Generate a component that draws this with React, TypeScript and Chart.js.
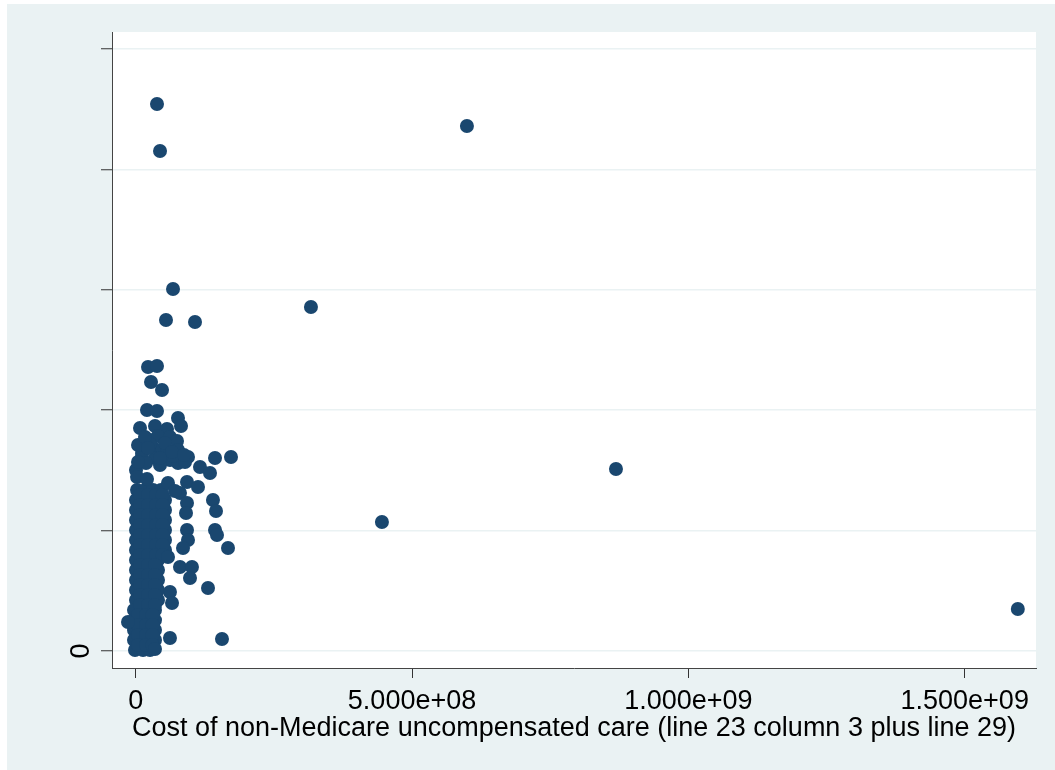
import React, { useEffect, useRef } from "react";
import { Chart, registerables } from "chart.js";

Chart.register(...registerables);

// x: cost in millions of dollars, y: value in axis units (ticks 0..5, only "0" labelled)
const outliers: [number, number][] = [
  [38.5, 4.543], [44.0, 4.153], [599.3, 4.36], [67.5, 3.007], [54.8, 2.749],
  [107.3, 2.733], [317.1, 2.857], [869.0, 1.512], [445.5, 1.071], [1596.1, 0.349],
];

const upperCluster: [number, number][] = [
  [22.3, 2.359], [38.5, 2.367], [27.7, 2.234], [47.6, 2.168], [20.4, 2.002],
  [38.5, 1.993], [7.8, 1.852], [34.9, 1.869], [56.6, 1.844], [76.5, 1.935],
  [82.0, 1.869], [25.9, 1.752], [40.3, 1.786], [62.0, 1.777], [74.7, 1.744],
  [76.5, 1.669], [11.4, 1.645], [31.3, 1.686], [47.6, 1.669], [56.6, 1.669],
  [94.6, 1.611], [143.5, 1.603], [172.4, 1.611], [11.4, 1.611], [34.9, 1.603],
  [62.0, 1.586], [76.5, 1.561], [116.3, 1.528], [134.4, 1.478], [2.4, 1.445],
  [20.4, 1.429], [58.4, 1.395], [92.8, 1.404], [112.7, 1.362], [80.1, 1.312],
  [71.1, 1.329], [139.8, 1.254], [145.3, 1.163], [92.8, 1.229], [91.0, 1.146],
  [92.8, 1.005], [94.6, 0.922], [85.6, 0.855], [143.5, 1.005], [147.1, 0.963],
  [167.0, 0.855], [58.4, 0.781], [80.1, 0.698], [101.8, 0.698], [98.2, 0.606],
  [130.8, 0.523], [62.0, 0.49], [65.7, 0.399], [62.0, 0.108], [156.1, 0.1],
  [34.9, 0.017], [-13.9, 0.241],
  [4.2, 1.711], [18.6, 1.561], [44.0, 1.545], [53.0, 1.727], [89.2, 1.57],
  [25.9, 1.72], [67.5, 1.62], [16.8, 1.777], [4.2, 1.57], [65.7, 1.653],
  [87.4, 1.628], [44.0, 1.603], [22.3, 1.686],
];

const denseCluster: [number, number][] = [
  [0.5, 1.503],
  [2.4, 1.337], [16.8, 1.337], [31.3, 1.337], [45.8, 1.337],
  [0.5, 1.254], [15.0, 1.254], [29.5, 1.254], [44.0, 1.254], [53.0, 1.254],
  [0.5, 1.171], [15.0, 1.171], [29.5, 1.171], [44.0, 1.171], [53.0, 1.171],
  [0.5, 1.088], [15.0, 1.088], [29.5, 1.088], [44.0, 1.088], [53.0, 1.088],
  [0.5, 1.005], [15.0, 1.005], [29.5, 1.005], [44.0, 1.005], [53.0, 1.005],
  [0.5, 0.922], [15.0, 0.922], [29.5, 0.922], [44.0, 0.922], [53.0, 0.922],
  [0.5, 0.839], [15.0, 0.839], [29.5, 0.839], [44.0, 0.839], [53.0, 0.839],
  [0.5, 0.756], [15.0, 0.756], [29.5, 0.756], [40.3, 0.756],
  [0.5, 0.673], [15.0, 0.673], [29.5, 0.673], [40.3, 0.673],
  [0.5, 0.59], [15.0, 0.59], [29.5, 0.59], [40.3, 0.59],
  [0.5, 0.507], [15.0, 0.507], [29.5, 0.507], [40.3, 0.507],
  [0.5, 0.424], [15.0, 0.424], [29.5, 0.424], [40.3, 0.424],
  [-3.1, 0.341], [11.4, 0.341], [25.9, 0.341], [34.9, 0.341],
  [-3.1, 0.257], [11.4, 0.257], [25.9, 0.257], [34.9, 0.257],
  [-3.1, 0.174], [11.4, 0.174], [25.9, 0.174], [34.9, 0.174],
  [-3.1, 0.091], [11.4, 0.091], [25.9, 0.091], [34.9, 0.091],
  [-1.3, 0.008], [13.2, 0.008], [25.9, 0.008],
];

const denseClusterInner: [number, number][] = [
  [7.8, 1.296], [22.3, 1.296], [36.7, 1.296], [48.5, 1.296],
  [7.8, 1.213], [22.3, 1.213], [36.7, 1.213], [48.5, 1.213],
  [7.8, 1.13], [22.3, 1.13], [36.7, 1.13], [48.5, 1.13],
  [7.8, 1.047], [22.3, 1.047], [36.7, 1.047], [48.5, 1.047],
  [7.8, 0.963], [22.3, 0.963], [36.7, 0.963], [48.5, 0.963],
  [7.8, 0.88], [22.3, 0.88], [36.7, 0.88], [48.5, 0.88],
  [7.8, 0.797], [22.3, 0.797], [36.7, 0.797], [48.5, 0.797],
  [7.8, 0.714], [22.3, 0.714], [34.9, 0.714],
  [7.8, 0.631], [22.3, 0.631], [34.9, 0.631],
  [7.8, 0.548], [22.3, 0.548], [34.9, 0.548],
  [7.8, 0.465], [22.3, 0.465], [34.9, 0.465],
  [7.8, 0.382], [22.3, 0.382], [34.9, 0.382],
  [4.2, 0.299], [18.6, 0.299], [30.4, 0.299],
  [4.2, 0.216], [18.6, 0.216], [30.4, 0.216],
  [4.2, 0.133], [18.6, 0.133], [30.4, 0.133],
  [4.2, 0.05], [18.6, 0.05], [30.4, 0.05],
];

const xTickValues = [0, 5e8, 1e9, 1.5e9];
const xTickLabels = ["0", "5.000e+08", "1.000e+09", "1.500e+09"];
const yTickValues = [0, 1, 2, 3, 4, 5];
const yTickLabels = ["0", "", "", "", "", ""];

const xTitle = "Cost of non-Medicare uncompensated care (line 23 column 3 plus line 29)";

const BG = "#EAF2F3";
const NAVY = "#1A476F";
const FONT = "'Liberation Sans', Arial, sans-serif";
const FS = 27;

export default function App() {
  const ref = useRef<HTMLCanvasElement>(null);

  useEffect(() => {
    if (!ref.current) return;
    const all = [...denseCluster, ...denseClusterInner, ...upperCluster, ...outliers].map(([x, y]) => ({
      x: x * 1e6,
      y,
    }));

    const bgPlugin = {
      id: "bg",
      beforeDraw(chart: any) {
        const { ctx, chartArea } = chart;
        ctx.save();
        ctx.fillStyle = BG;
        ctx.fillRect(0, 0, chart.width, chart.height);
        ctx.fillStyle = "#FFFFFF";
        ctx.fillRect(chartArea.left, chartArea.top, chartArea.right - chartArea.left, chartArea.bottom - chartArea.top);
        ctx.restore();
      },
      afterDraw(chart: any) {
        const { ctx } = chart;
        const ys = chart.scales.y;
        ctx.save();
        ctx.fillStyle = "#000";
        ctx.font = `${FS}px ${FONT}`;
        ctx.textAlign = "center";
        ctx.textBaseline = "middle";
        yTickValues.forEach((v, i) => {
          if (!yTickLabels[i]) return;
          ctx.save();
          ctx.translate(75, ys.getPixelForValue(v));
          ctx.rotate(-Math.PI / 2);
          ctx.fillText(yTickLabels[i], 0, 0);
          ctx.restore();
        });
        ctx.restore();
      },
    };

    const chart = new Chart(ref.current, {
      type: "scatter",
      data: {
        datasets: [
          {
            data: all,
            backgroundColor: NAVY,
            borderColor: NAVY,
            borderWidth: 0,
            pointRadius: 7,
            pointHoverRadius: 7,
          },
        ],
      },
      plugins: [bgPlugin],
      options: {
        responsive: false,
        animation: false,
        events: [],
        layout: { padding: { left: 0, top: 28, right: 19, bottom: 0 } },
        plugins: { legend: { display: false }, tooltip: { enabled: false } },
        scales: {
          x: {
            type: "linear",
            min: -42.9e6,
            max: 1629e6,
            afterBuildTicks: (s: any) => {
              s.ticks = xTickValues.map((v) => ({ value: v }));
            },
            afterFit: (s: any) => {
              s.height = 102;
            },
            ticks: {
              callback: (v: any) => {
                const i = xTickValues.indexOf(Number(v));
                return i >= 0 ? xTickLabels[i] : "";
              },
              font: { family: FONT, size: FS },
              color: "#000",
              padding: 7,
              maxRotation: 0,
              autoSkip: false,
            },
            grid: { drawOnChartArea: false, tickLength: 10, tickColor: "#333", tickWidth: 1 },
            border: { color: "#444", width: 1 },
            title: {
              display: true,
              text: xTitle,
              font: { family: FONT, size: FS },
              color: "#000",
              padding: { top: 0, bottom: 25 },
            },
          },
          y: {
            type: "linear",
            min: -0.141,
            max: 5.141,
            afterBuildTicks: (s: any) => {
              s.ticks = yTickValues.map((v) => ({ value: v }));
            },
            afterFit: (s: any) => {
              s.width = 105;
            },
            ticks: { display: false },
            grid: { color: BG, lineWidth: 1.5, tickLength: 11, tickColor: "#333", tickWidth: 1 },
            border: { color: "#444", width: 1 },
          },
        },
      },
    });
    return () => chart.destroy();
  }, []);

  return (
    <div style={{ position: "absolute", left: 7, top: 4, width: 1048, height: 766 }}>
      <canvas ref={ref} width={1048} height={766} />
    </div>
  );
}
